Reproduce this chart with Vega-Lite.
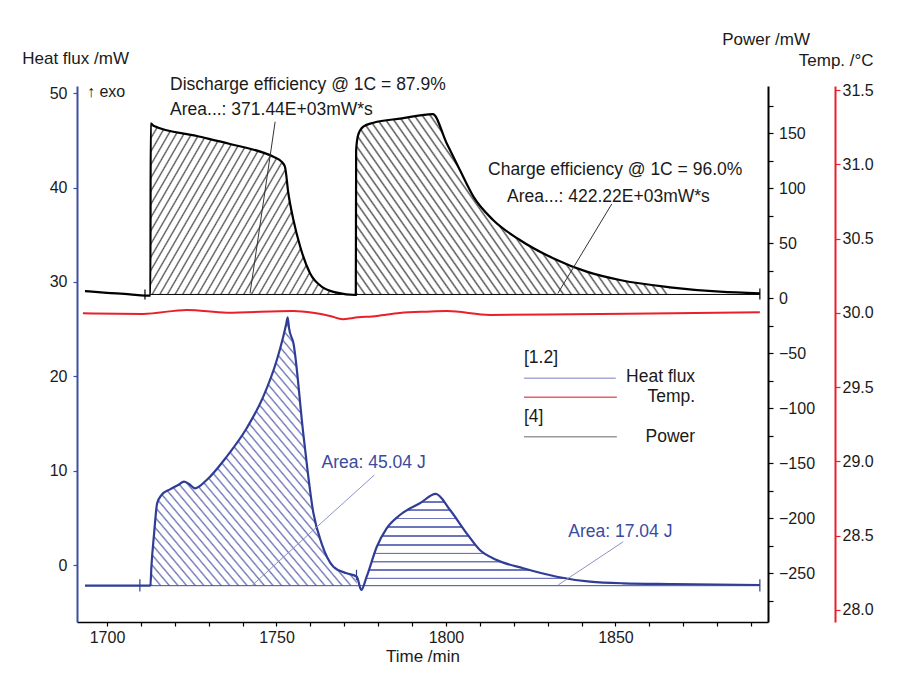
{
"$schema":"https://vega.github.io/schema/vega-lite/v6.json",
"width":691,"height":536,
"autosize":{"type":"none"},
"padding":{"left":77,"top":86,"right":131,"bottom":53},
"background":"#ffffff",
"config":{
 "view":{"stroke":null},
 "axis":{"grid":false,"labelFont":"Liberation Sans","titleFont":"Liberation Sans","labelFontSize":16,"titleFontSize":17,"titleFontWeight":"normal","labelColor":"#1a1a1a","titleColor":"#1a1a1a","domainColor":"#000000","tickColor":"#000000","domainWidth":1.5,"tickWidth":1.2,"labelOverlap":false,"labelFlush":false}
},
"datasets":{
 "hf":[
  {"t":1693.5,"hf":-2.19},{"t":1709.7,"hf":-2.19},{"t":1712.8,"hf":-2.19},{"t":1713.1,"hf":-0.18},{"t":1713.9,"hf":3.36},{"t":1714.8,"hf":6.54},{"t":1716.1,"hf":7.42},{"t":1718.6,"hf":8.02},{"t":1721.0,"hf":8.48},{"t":1722.7,"hf":8.83},{"t":1724.2,"hf":8.59},{"t":1726.0,"hf":8.13},{"t":1729.4,"hf":9.01},{"t":1735.3,"hf":11.48},{"t":1741.2,"hf":14.49},{"t":1746.1,"hf":17.84},{"t":1750.1,"hf":21.73},{"t":1751.9,"hf":24.06},{"t":1752.9,"hf":25.6},{"t":1753.3,"hf":26.26},{"t":1753.7,"hf":25.1},{"t":1755.0,"hf":23.5},{"t":1757.9,"hf":13.96},{"t":1760.9,"hf":5.48},{"t":1763.3,"hf":2.3},{"t":1766.8,"hf":-0.18},{"t":1770.7,"hf":-0.88},{"t":1773.7,"hf":-1.24},{"t":1775.0,"hf":-2.65},{"t":1776.6,"hf":-1.24},{"t":1779.6,"hf":1.94},{"t":1782.5,"hf":3.89},{"t":1786.4,"hf":5.3},{"t":1792.3,"hf":6.54},{"t":1797.0,"hf":7.53},{"t":1801.2,"hf":5.83},{"t":1806.1,"hf":3.36},{"t":1810.0,"hf":1.59},{"t":1815.0,"hf":0.53},{"t":1822.8,"hf":-0.35},{"t":1832.7,"hf":-1.24},{"t":1842.5,"hf":-1.77},{"t":1852.3,"hf":-1.94},{"t":1867.1,"hf":-2.01},{"t":1892.6,"hf":-2.12}
 ],
 "power":[
  {"t":1693.5,"P":6.5},{"t":1700.0,"P":5.0},{"t":1706.8,"P":3.6},{"t":1711.2,"P":2.4},{"t":1712.8,"P":2.4},{"t":1712.9,"P":159.1},{"t":1713.7,"P":156.9},{"t":1726.5,"P":147.5},{"t":1736.3,"P":140.3},{"t":1746.1,"P":132.4},{"t":1749.1,"P":128.7},{"t":1751.5,"P":124.2},{"t":1752.5,"P":119.6},{"t":1753.5,"P":95.5},{"t":1755.0,"P":71.2},{"t":1757.0,"P":46.9},{"t":1759.9,"P":22.7},{"t":1763.8,"P":9.6},{"t":1767.8,"P":5.1},{"t":1773.3,"P":3.0},{"t":1773.4,"P":3.0},{"t":1773.5,"P":134.8},{"t":1774.1,"P":148.5},{"t":1775.6,"P":156.0},{"t":1778.6,"P":159.6},{"t":1787.0,"P":163.5},{"t":1796.1,"P":167.5},{"t":1800.2,"P":140.9},{"t":1804.1,"P":116.6},{"t":1808.1,"P":92.4},{"t":1813.9,"P":71.2},{"t":1821.8,"P":53.0},{"t":1831.6,"P":36.4},{"t":1841.5,"P":24.2},{"t":1851.3,"P":16.6},{"t":1866.1,"P":10.0},{"t":1880.8,"P":6.0},{"t":1892.6,"P":4.5}
 ],
 "temp":[
  {"t":1692.9,"T":29.997},{"t":1710.6,"T":29.993},{"t":1723.6,"T":30.02},{"t":1735.4,"T":30.001},{"t":1754.9,"T":30.013},{"t":1760.8,"T":30.001},{"t":1765.8,"T":29.979},{"t":1769.6,"T":29.957},{"t":1772.6,"T":29.966},{"t":1779.6,"T":29.979},{"t":1786.4,"T":29.999},{"t":1794.4,"T":30.008},{"t":1800.3,"T":30.012},{"t":1813.0,"T":29.986},{"t":1837.5,"T":29.991},{"t":1867.0,"T":29.998},{"t":1892.6,"T":30.004}
 ]
},
"encoding":{"x":{"field":"t","type":"quantitative","scale":{"domain":[1691.15,1895],"nice":false,"zero":false},"axis":{"title":"Time /min","values":[1700,1710,1720,1730,1740,1750,1760,1770,1780,1790,1800,1810,1820,1830,1840,1850,1860,1870,1880,1890],"format":"d","labelExpr":"datum.value % 50 === 0 ? datum.label : ''","tickSize":4,"labelPadding":3,"titlePadding":3}}},
"layer":[
 {
  "encoding":{"y":{"field":"hf","type":"quantitative","scale":{"domain":[-6.04,50.77],"nice":false,"zero":false},"axis":{"orient":"left","title":"Heat flux /mW","values":[0,10,20,30,40,50],"tickSize":4,"labelPadding":6,"domainColor":"#3d4da3","tickColor":"#3d4da3","domainWidth":2,"titleAngle":0,"titleAlign":"left","titleBaseline":"middle","titleX":-55.3,"titleY":-27.7}}},
  "layer":[
   {"data":{"name":"hf"},"transform":[{"filter":"datum.t >= 1712.8 && datum.t <= 1773.7"}],"mark":{"type":"area","interpolate":"monotone","fill":{"gradient":"linear","x1":0,"y1":1,"x2":0.9537,"y2":-0.0424,"stops":[
{"offset":0,"color":"#fff"},{"offset":0.004,"color":"#6a72b6"},{"offset":0.008,"color":"#fff"},{"offset":0.02,"color":"#fff"},{"offset":0.024,"color":"#6a72b6"},{"offset":0.028,"color":"#fff"},{"offset":0.04,"color":"#fff"},{"offset":0.044,"color":"#6a72b6"},{"offset":0.048,"color":"#fff"},{"offset":0.06,"color":"#fff"},{"offset":0.064,"color":"#6a72b6"},{"offset":0.068,"color":"#fff"},{"offset":0.08,"color":"#fff"},{"offset":0.084,"color":"#6a72b6"},{"offset":0.088,"color":"#fff"},{"offset":0.1,"color":"#fff"},{"offset":0.104,"color":"#6a72b6"},{"offset":0.108,"color":"#fff"},{"offset":0.12,"color":"#fff"},{"offset":0.124,"color":"#6a72b6"},{"offset":0.128,"color":"#fff"},{"offset":0.14,"color":"#fff"},{"offset":0.144,"color":"#6a72b6"},{"offset":0.148,"color":"#fff"},{"offset":0.16,"color":"#fff"},{"offset":0.164,"color":"#6a72b6"},{"offset":0.168,"color":"#fff"},{"offset":0.18,"color":"#fff"},{"offset":0.184,"color":"#6a72b6"},{"offset":0.188,"color":"#fff"},{"offset":0.2,"color":"#fff"},{"offset":0.204,"color":"#6a72b6"},{"offset":0.208,"color":"#fff"},{"offset":0.22,"color":"#fff"},{"offset":0.224,"color":"#6a72b6"},{"offset":0.228,"color":"#fff"},{"offset":0.24,"color":"#fff"},{"offset":0.244,"color":"#6a72b6"},{"offset":0.248,"color":"#fff"},{"offset":0.26,"color":"#fff"},{"offset":0.264,"color":"#6a72b6"},{"offset":0.268,"color":"#fff"},{"offset":0.28,"color":"#fff"},{"offset":0.284,"color":"#6a72b6"},{"offset":0.288,"color":"#fff"},{"offset":0.3,"color":"#fff"},{"offset":0.304,"color":"#6a72b6"},{"offset":0.308,"color":"#fff"},{"offset":0.32,"color":"#fff"},{"offset":0.324,"color":"#6a72b6"},{"offset":0.328,"color":"#fff"},{"offset":0.34,"color":"#fff"},{"offset":0.344,"color":"#6a72b6"},{"offset":0.348,"color":"#fff"},{"offset":0.36,"color":"#fff"},{"offset":0.364,"color":"#6a72b6"},{"offset":0.368,"color":"#fff"},{"offset":0.38,"color":"#fff"},{"offset":0.384,"color":"#6a72b6"},{"offset":0.388,"color":"#fff"},{"offset":0.4,"color":"#fff"},{"offset":0.404,"color":"#6a72b6"},{"offset":0.408,"color":"#fff"},{"offset":0.42,"color":"#fff"},{"offset":0.424,"color":"#6a72b6"},{"offset":0.428,"color":"#fff"},{"offset":0.44,"color":"#fff"},{"offset":0.444,"color":"#6a72b6"},{"offset":0.448,"color":"#fff"},{"offset":0.46,"color":"#fff"},{"offset":0.464,"color":"#6a72b6"},{"offset":0.468,"color":"#fff"},{"offset":0.48,"color":"#fff"},{"offset":0.484,"color":"#6a72b6"},{"offset":0.488,"color":"#fff"},{"offset":0.5,"color":"#fff"},{"offset":0.504,"color":"#6a72b6"},{"offset":0.508,"color":"#fff"},{"offset":0.52,"color":"#fff"},{"offset":0.524,"color":"#6a72b6"},{"offset":0.528,"color":"#fff"},{"offset":0.54,"color":"#fff"},{"offset":0.544,"color":"#6a72b6"},{"offset":0.548,"color":"#fff"},{"offset":0.56,"color":"#fff"},{"offset":0.564,"color":"#6a72b6"},{"offset":0.568,"color":"#fff"},{"offset":0.58,"color":"#fff"},{"offset":0.584,"color":"#6a72b6"},{"offset":0.588,"color":"#fff"},{"offset":0.6,"color":"#fff"},{"offset":0.604,"color":"#6a72b6"},{"offset":0.608,"color":"#fff"},{"offset":0.62,"color":"#fff"},{"offset":0.624,"color":"#6a72b6"},{"offset":0.628,"color":"#fff"},{"offset":0.64,"color":"#fff"},{"offset":0.644,"color":"#6a72b6"},{"offset":0.648,"color":"#fff"},{"offset":0.66,"color":"#fff"},{"offset":0.664,"color":"#6a72b6"},{"offset":0.668,"color":"#fff"},{"offset":0.68,"color":"#fff"},{"offset":0.684,"color":"#6a72b6"},{"offset":0.688,"color":"#fff"},{"offset":0.7,"color":"#fff"},{"offset":0.704,"color":"#6a72b6"},{"offset":0.708,"color":"#fff"},{"offset":0.72,"color":"#fff"},{"offset":0.724,"color":"#6a72b6"},{"offset":0.728,"color":"#fff"},{"offset":0.74,"color":"#fff"},{"offset":0.744,"color":"#6a72b6"},{"offset":0.748,"color":"#fff"},{"offset":0.76,"color":"#fff"},{"offset":0.764,"color":"#6a72b6"},{"offset":0.768,"color":"#fff"},{"offset":0.78,"color":"#fff"},{"offset":0.784,"color":"#6a72b6"},{"offset":0.788,"color":"#fff"},{"offset":0.8,"color":"#fff"},{"offset":0.804,"color":"#6a72b6"},{"offset":0.808,"color":"#fff"},{"offset":0.82,"color":"#fff"},{"offset":0.824,"color":"#6a72b6"},{"offset":0.828,"color":"#fff"},{"offset":0.84,"color":"#fff"},{"offset":0.844,"color":"#6a72b6"},{"offset":0.848,"color":"#fff"},{"offset":0.86,"color":"#fff"},{"offset":0.864,"color":"#6a72b6"},{"offset":0.868,"color":"#fff"},{"offset":0.88,"color":"#fff"},{"offset":0.884,"color":"#6a72b6"},{"offset":0.888,"color":"#fff"},{"offset":0.9,"color":"#fff"},{"offset":0.904,"color":"#6a72b6"},{"offset":0.908,"color":"#fff"},{"offset":0.92,"color":"#fff"},{"offset":0.924,"color":"#6a72b6"},{"offset":0.928,"color":"#fff"},{"offset":0.94,"color":"#fff"},{"offset":0.944,"color":"#6a72b6"},{"offset":0.948,"color":"#fff"},{"offset":0.96,"color":"#fff"},{"offset":0.964,"color":"#6a72b6"},{"offset":0.968,"color":"#fff"},{"offset":0.98,"color":"#fff"},{"offset":0.984,"color":"#6a72b6"},{"offset":0.988,"color":"#fff"}
   ]}},"encoding":{"y2":{"datum":-2.19}}},
   {"data":{"name":"hf"},"transform":[{"filter":"datum.t >= 1775.0 && datum.t <= 1852.3"}],"mark":{"type":"area","interpolate":"monotone","fill":{"gradient":"linear","x1":0,"y1":0,"x2":0,"y2":1,"stops":[
     {"offset":0.075,"color":"rgba(60,72,165,0)"},{"offset":0.078,"color":"rgba(60,72,165,0.75)"},{"offset":0.090,"color":"rgba(60,72,165,0.75)"},{"offset":0.093,"color":"rgba(60,72,165,0)"},
     {"offset":0.159,"color":"rgba(60,72,165,0)"},{"offset":0.162,"color":"rgba(60,72,165,0.75)"},{"offset":0.174,"color":"rgba(60,72,165,0.75)"},{"offset":0.177,"color":"rgba(60,72,165,0)"},
     {"offset":0.247,"color":"rgba(60,72,165,0)"},{"offset":0.250,"color":"rgba(60,72,165,0.75)"},{"offset":0.262,"color":"rgba(60,72,165,0.75)"},{"offset":0.265,"color":"rgba(60,72,165,0)"},
     {"offset":0.335,"color":"rgba(60,72,165,0)"},{"offset":0.338,"color":"rgba(60,72,165,0.75)"},{"offset":0.350,"color":"rgba(60,72,165,0.75)"},{"offset":0.353,"color":"rgba(60,72,165,0)"},
     {"offset":0.429,"color":"rgba(60,72,165,0)"},{"offset":0.432,"color":"rgba(60,72,165,0.75)"},{"offset":0.444,"color":"rgba(60,72,165,0.75)"},{"offset":0.447,"color":"rgba(60,72,165,0)"},
     {"offset":0.523,"color":"rgba(60,72,165,0)"},{"offset":0.526,"color":"rgba(60,72,165,0.75)"},{"offset":0.538,"color":"rgba(60,72,165,0.75)"},{"offset":0.541,"color":"rgba(60,72,165,0)"},
     {"offset":0.609,"color":"rgba(60,72,165,0)"},{"offset":0.612,"color":"rgba(60,72,165,0.75)"},{"offset":0.624,"color":"rgba(60,72,165,0.75)"},{"offset":0.627,"color":"rgba(60,72,165,0)"},
     {"offset":0.697,"color":"rgba(60,72,165,0)"},{"offset":0.700,"color":"rgba(60,72,165,0.75)"},{"offset":0.712,"color":"rgba(60,72,165,0.75)"},{"offset":0.715,"color":"rgba(60,72,165,0)"},
     {"offset":0.783,"color":"rgba(60,72,165,0)"},{"offset":0.786,"color":"rgba(60,72,165,0.75)"},{"offset":0.798,"color":"rgba(60,72,165,0.75)"},{"offset":0.801,"color":"rgba(60,72,165,0)"},
     {"offset":0.869,"color":"rgba(60,72,165,0)"},{"offset":0.872,"color":"rgba(60,72,165,0.75)"},{"offset":0.884,"color":"rgba(60,72,165,0.75)"},{"offset":0.887,"color":"rgba(60,72,165,0)"}
   ]}},"encoding":{"y2":{"datum":-2.19}}},
   {"data":{"values":[{"t":1712.8,"t2":1892.6,"hf":-2.19}]},"mark":{"type":"rule","color":"#3d4da3","strokeWidth":1},"encoding":{"x2":{"field":"t2"}}},
   {"data":{"values":[{"t":1709.7,"hf":-1.5,"hf2":-2.8},{"t":1773.6,"hf":-0.5,"hf2":-1.6},{"t":1892.6,"hf":-1.5,"hf2":-2.8}]},"mark":{"type":"rule","color":"#2f3d96","strokeWidth":1.2},"encoding":{"y2":{"field":"hf2"}}},
   {"data":{"name":"hf"},"mark":{"type":"line","interpolate":"monotone","color":"#2f3d96","strokeWidth":2.2},"encoding":{}}
  ]
 },
 {
  "encoding":{"y":{"field":"P","type":"quantitative","scale":{"domain":[-294.3,193],"nice":false,"zero":false},"axis":{"orient":"right","title":"Power /mW","values":[-275,-250,-225,-200,-175,-150,-125,-100,-75,-50,-25,0,25,50,75,100,125,150,175],"labelExpr":"datum.value % 50 === 0 ? datum.label : ''","tickSize":5,"labelPadding":5.5,"domainWidth":2,"titleAngle":0,"titleAlign":"left","titleBaseline":"middle","titleX":-46.3,"titleY":-47}}},
  "layer":[
   {"data":{"name":"power"},"transform":[{"filter":"datum.t >= 1712.8 && datum.t <= 1773.4"}],"mark":{"type":"area","interpolate":"monotone","fill":{"gradient":"linear","x1":0,"y1":0,"x2":1.2025,"y2":0.583,"stops":[
{"offset":0,"color":"#fff"},{"offset":0.005,"color":"#555"},{"offset":0.01,"color":"#fff"},{"offset":0.025,"color":"#fff"},{"offset":0.03,"color":"#555"},{"offset":0.035,"color":"#fff"},{"offset":0.05,"color":"#fff"},{"offset":0.055,"color":"#555"},{"offset":0.06,"color":"#fff"},{"offset":0.075,"color":"#fff"},{"offset":0.08,"color":"#555"},{"offset":0.085,"color":"#fff"},{"offset":0.1,"color":"#fff"},{"offset":0.105,"color":"#555"},{"offset":0.11,"color":"#fff"},{"offset":0.125,"color":"#fff"},{"offset":0.13,"color":"#555"},{"offset":0.135,"color":"#fff"},{"offset":0.15,"color":"#fff"},{"offset":0.155,"color":"#555"},{"offset":0.16,"color":"#fff"},{"offset":0.175,"color":"#fff"},{"offset":0.18,"color":"#555"},{"offset":0.185,"color":"#fff"},{"offset":0.2,"color":"#fff"},{"offset":0.205,"color":"#555"},{"offset":0.21,"color":"#fff"},{"offset":0.225,"color":"#fff"},{"offset":0.23,"color":"#555"},{"offset":0.235,"color":"#fff"},{"offset":0.25,"color":"#fff"},{"offset":0.255,"color":"#555"},{"offset":0.26,"color":"#fff"},{"offset":0.275,"color":"#fff"},{"offset":0.28,"color":"#555"},{"offset":0.285,"color":"#fff"},{"offset":0.3,"color":"#fff"},{"offset":0.305,"color":"#555"},{"offset":0.31,"color":"#fff"},{"offset":0.325,"color":"#fff"},{"offset":0.33,"color":"#555"},{"offset":0.335,"color":"#fff"},{"offset":0.35,"color":"#fff"},{"offset":0.355,"color":"#555"},{"offset":0.36,"color":"#fff"},{"offset":0.375,"color":"#fff"},{"offset":0.38,"color":"#555"},{"offset":0.385,"color":"#fff"},{"offset":0.4,"color":"#fff"},{"offset":0.405,"color":"#555"},{"offset":0.41,"color":"#fff"},{"offset":0.425,"color":"#fff"},{"offset":0.43,"color":"#555"},{"offset":0.435,"color":"#fff"},{"offset":0.45,"color":"#fff"},{"offset":0.455,"color":"#555"},{"offset":0.46,"color":"#fff"},{"offset":0.475,"color":"#fff"},{"offset":0.48,"color":"#555"},{"offset":0.485,"color":"#fff"},{"offset":0.5,"color":"#fff"},{"offset":0.505,"color":"#555"},{"offset":0.51,"color":"#fff"},{"offset":0.525,"color":"#fff"},{"offset":0.53,"color":"#555"},{"offset":0.535,"color":"#fff"},{"offset":0.55,"color":"#fff"},{"offset":0.555,"color":"#555"},{"offset":0.56,"color":"#fff"},{"offset":0.575,"color":"#fff"},{"offset":0.58,"color":"#555"},{"offset":0.585,"color":"#fff"},{"offset":0.6,"color":"#fff"},{"offset":0.605,"color":"#555"},{"offset":0.61,"color":"#fff"},{"offset":0.625,"color":"#fff"},{"offset":0.63,"color":"#555"},{"offset":0.635,"color":"#fff"},{"offset":0.65,"color":"#fff"},{"offset":0.655,"color":"#555"},{"offset":0.66,"color":"#fff"},{"offset":0.675,"color":"#fff"},{"offset":0.68,"color":"#555"},{"offset":0.685,"color":"#fff"},{"offset":0.7,"color":"#fff"},{"offset":0.705,"color":"#555"},{"offset":0.71,"color":"#fff"},{"offset":0.725,"color":"#fff"},{"offset":0.73,"color":"#555"},{"offset":0.735,"color":"#fff"},{"offset":0.75,"color":"#fff"},{"offset":0.755,"color":"#555"},{"offset":0.76,"color":"#fff"},{"offset":0.775,"color":"#fff"},{"offset":0.78,"color":"#555"},{"offset":0.785,"color":"#fff"},{"offset":0.8,"color":"#fff"},{"offset":0.805,"color":"#555"},{"offset":0.81,"color":"#fff"},{"offset":0.825,"color":"#fff"},{"offset":0.83,"color":"#555"},{"offset":0.835,"color":"#fff"},{"offset":0.85,"color":"#fff"},{"offset":0.855,"color":"#555"},{"offset":0.86,"color":"#fff"},{"offset":0.875,"color":"#fff"},{"offset":0.88,"color":"#555"},{"offset":0.885,"color":"#fff"},{"offset":0.9,"color":"#fff"},{"offset":0.905,"color":"#555"},{"offset":0.91,"color":"#fff"},{"offset":0.925,"color":"#fff"},{"offset":0.93,"color":"#555"},{"offset":0.935,"color":"#fff"},{"offset":0.95,"color":"#fff"},{"offset":0.955,"color":"#555"},{"offset":0.96,"color":"#fff"},{"offset":0.975,"color":"#fff"},{"offset":0.98,"color":"#555"},{"offset":0.985,"color":"#fff"}
   ]}},"encoding":{"y2":{"datum":3.5}}},
   {"data":{"name":"power"},"transform":[{"filter":"datum.t >= 1773.4 && datum.t <= 1866.1"}],"mark":{"type":"area","interpolate":"monotone","fill":{"gradient":"linear","x1":0,"y1":1,"x2":1.207,"y2":0.5133,"stops":[
{"offset":0,"color":"#fff"},{"offset":0.004,"color":"#555"},{"offset":0.008,"color":"#fff"},{"offset":0.018,"color":"#fff"},{"offset":0.022,"color":"#555"},{"offset":0.026,"color":"#fff"},{"offset":0.036,"color":"#fff"},{"offset":0.04,"color":"#555"},{"offset":0.044,"color":"#fff"},{"offset":0.054,"color":"#fff"},{"offset":0.058,"color":"#555"},{"offset":0.062,"color":"#fff"},{"offset":0.072,"color":"#fff"},{"offset":0.076,"color":"#555"},{"offset":0.08,"color":"#fff"},{"offset":0.09,"color":"#fff"},{"offset":0.094,"color":"#555"},{"offset":0.098,"color":"#fff"},{"offset":0.108,"color":"#fff"},{"offset":0.112,"color":"#555"},{"offset":0.116,"color":"#fff"},{"offset":0.126,"color":"#fff"},{"offset":0.13,"color":"#555"},{"offset":0.134,"color":"#fff"},{"offset":0.144,"color":"#fff"},{"offset":0.148,"color":"#555"},{"offset":0.152,"color":"#fff"},{"offset":0.162,"color":"#fff"},{"offset":0.166,"color":"#555"},{"offset":0.17,"color":"#fff"},{"offset":0.18,"color":"#fff"},{"offset":0.184,"color":"#555"},{"offset":0.188,"color":"#fff"},{"offset":0.198,"color":"#fff"},{"offset":0.202,"color":"#555"},{"offset":0.206,"color":"#fff"},{"offset":0.216,"color":"#fff"},{"offset":0.22,"color":"#555"},{"offset":0.224,"color":"#fff"},{"offset":0.234,"color":"#fff"},{"offset":0.238,"color":"#555"},{"offset":0.242,"color":"#fff"},{"offset":0.252,"color":"#fff"},{"offset":0.256,"color":"#555"},{"offset":0.26,"color":"#fff"},{"offset":0.27,"color":"#fff"},{"offset":0.274,"color":"#555"},{"offset":0.278,"color":"#fff"},{"offset":0.288,"color":"#fff"},{"offset":0.292,"color":"#555"},{"offset":0.296,"color":"#fff"},{"offset":0.306,"color":"#fff"},{"offset":0.31,"color":"#555"},{"offset":0.314,"color":"#fff"},{"offset":0.324,"color":"#fff"},{"offset":0.328,"color":"#555"},{"offset":0.332,"color":"#fff"},{"offset":0.342,"color":"#fff"},{"offset":0.346,"color":"#555"},{"offset":0.35,"color":"#fff"},{"offset":0.36,"color":"#fff"},{"offset":0.364,"color":"#555"},{"offset":0.368,"color":"#fff"},{"offset":0.378,"color":"#fff"},{"offset":0.382,"color":"#555"},{"offset":0.386,"color":"#fff"},{"offset":0.396,"color":"#fff"},{"offset":0.4,"color":"#555"},{"offset":0.404,"color":"#fff"},{"offset":0.414,"color":"#fff"},{"offset":0.418,"color":"#555"},{"offset":0.422,"color":"#fff"},{"offset":0.432,"color":"#fff"},{"offset":0.436,"color":"#555"},{"offset":0.44,"color":"#fff"},{"offset":0.45,"color":"#fff"},{"offset":0.454,"color":"#555"},{"offset":0.458,"color":"#fff"},{"offset":0.468,"color":"#fff"},{"offset":0.472,"color":"#555"},{"offset":0.476,"color":"#fff"},{"offset":0.486,"color":"#fff"},{"offset":0.49,"color":"#555"},{"offset":0.494,"color":"#fff"},{"offset":0.504,"color":"#fff"},{"offset":0.508,"color":"#555"},{"offset":0.512,"color":"#fff"},{"offset":0.522,"color":"#fff"},{"offset":0.526,"color":"#555"},{"offset":0.53,"color":"#fff"},{"offset":0.54,"color":"#fff"},{"offset":0.544,"color":"#555"},{"offset":0.548,"color":"#fff"},{"offset":0.558,"color":"#fff"},{"offset":0.562,"color":"#555"},{"offset":0.566,"color":"#fff"},{"offset":0.576,"color":"#fff"},{"offset":0.58,"color":"#555"},{"offset":0.584,"color":"#fff"},{"offset":0.594,"color":"#fff"},{"offset":0.598,"color":"#555"},{"offset":0.602,"color":"#fff"},{"offset":0.612,"color":"#fff"},{"offset":0.616,"color":"#555"},{"offset":0.62,"color":"#fff"},{"offset":0.63,"color":"#fff"},{"offset":0.634,"color":"#555"},{"offset":0.638,"color":"#fff"},{"offset":0.648,"color":"#fff"},{"offset":0.652,"color":"#555"},{"offset":0.656,"color":"#fff"},{"offset":0.666,"color":"#fff"},{"offset":0.67,"color":"#555"},{"offset":0.674,"color":"#fff"},{"offset":0.684,"color":"#fff"},{"offset":0.688,"color":"#555"},{"offset":0.692,"color":"#fff"},{"offset":0.702,"color":"#fff"},{"offset":0.706,"color":"#555"},{"offset":0.71,"color":"#fff"},{"offset":0.72,"color":"#fff"},{"offset":0.724,"color":"#555"},{"offset":0.728,"color":"#fff"},{"offset":0.738,"color":"#fff"},{"offset":0.742,"color":"#555"},{"offset":0.746,"color":"#fff"},{"offset":0.756,"color":"#fff"},{"offset":0.76,"color":"#555"},{"offset":0.764,"color":"#fff"},{"offset":0.774,"color":"#fff"},{"offset":0.778,"color":"#555"},{"offset":0.782,"color":"#fff"},{"offset":0.792,"color":"#fff"},{"offset":0.796,"color":"#555"},{"offset":0.8,"color":"#fff"},{"offset":0.81,"color":"#fff"},{"offset":0.814,"color":"#555"},{"offset":0.818,"color":"#fff"},{"offset":0.828,"color":"#fff"},{"offset":0.832,"color":"#555"},{"offset":0.836,"color":"#fff"},{"offset":0.846,"color":"#fff"},{"offset":0.85,"color":"#555"},{"offset":0.854,"color":"#fff"},{"offset":0.864,"color":"#fff"},{"offset":0.868,"color":"#555"},{"offset":0.872,"color":"#fff"},{"offset":0.882,"color":"#fff"},{"offset":0.886,"color":"#555"},{"offset":0.89,"color":"#fff"},{"offset":0.9,"color":"#fff"},{"offset":0.904,"color":"#555"},{"offset":0.908,"color":"#fff"},{"offset":0.918,"color":"#fff"},{"offset":0.922,"color":"#555"},{"offset":0.926,"color":"#fff"},{"offset":0.936,"color":"#fff"},{"offset":0.94,"color":"#555"},{"offset":0.944,"color":"#fff"},{"offset":0.954,"color":"#fff"},{"offset":0.958,"color":"#555"},{"offset":0.962,"color":"#fff"},{"offset":0.972,"color":"#fff"},{"offset":0.976,"color":"#555"},{"offset":0.98,"color":"#fff"},{"offset":0.99,"color":"#fff"},{"offset":0.994,"color":"#555"},{"offset":0.998,"color":"#fff"}
   ]}},"encoding":{"y2":{"datum":3.5}}},
   {"data":{"values":[{"t":1712.8,"t2":1892.6,"P":3.5}]},"mark":{"type":"rule","color":"#000000","strokeWidth":1},"encoding":{"x2":{"field":"t2"}}},
   {"data":{"values":[{"t":1711.2,"P":8,"P2":-1},{"t":1892.6,"P":9,"P2":-1}]},"mark":{"type":"rule","color":"#000000","strokeWidth":1.2},"encoding":{"y2":{"field":"P2"}}},
   {"data":{"name":"power"},"mark":{"type":"line","interpolate":"monotone","color":"#000000","strokeWidth":2.2},"encoding":{}},
   {"data":{"values":[{"t":1749.6,"P":160.5,"t2":1742.2,"P2":4.5},{"t":1848.9,"P":85.7,"t2":1833.0,"P2":4.5}]},"mark":{"type":"rule","color":"#333333","strokeWidth":1},"encoding":{"x2":{"field":"t2"},"y2":{"field":"P2"}}},
   {"data":{"values":[{"t":1778.9,"P":-160.6,"t2":1742.7,"P2":-261.3},{"t":1852.3,"P":-221.3,"t2":1833.1,"P2":-260.6}]},"mark":{"type":"rule","color":"#8d93c4","strokeWidth":1},"encoding":{"x2":{"field":"t2"},"y2":{"field":"P2"}}},
   {"data":{"values":[{"t":1823.0,"t2":1850.1,"P":-72.7,"series":"Heat flux"},{"t":1823.0,"t2":1850.4,"P":-90,"series":"Temp."},{"t":1823.0,"t2":1850.4,"P":-125.8,"series":"Power"}]},"mark":{"type":"rule","strokeWidth":1.5},"encoding":{"x2":{"field":"t2"},"color":{"field":"series","type":"nominal","scale":{"domain":["Heat flux","Temp.","Power"],"range":["#a4a9d6","#e5606b","#9a9a9a"]},"legend":null}}},
   {"data":{"values":[{"t":1718.6,"P":193.9,"label":"Discharge efficiency @ 1C = 87.9%"},{"t":1718.6,"P":171.2,"label":"Area...: 371.44E+03mW*s"},{"t":1812.4,"P":116.6,"label":"Charge efficiency @ 1C = 96.0%"},{"t":1818.0,"P":92.4,"label":"Area...: 422.22E+03mW*s"},{"t":1823.0,"P":-54.5,"label":"[1.2]"},{"t":1823.0,"P":-107.6,"label":"[4]"}]},"mark":{"type":"text","align":"left","baseline":"middle","font":"Liberation Sans","fontSize":17.5,"color":"#1a1a1a"},"encoding":{"text":{"field":"label"}}},
   {"data":{"values":[{"t":1873.5,"P":-71.8,"label":"Heat flux"},{"t":1873.5,"P":-89.5,"label":"Temp."},{"t":1873.5,"P":-125.8,"label":"Power"}]},"mark":{"type":"text","align":"right","baseline":"middle","font":"Liberation Sans","fontSize":17.5,"color":"#1a1a1a"},"encoding":{"text":{"field":"label"}}},
   {"data":{"values":[{"t":1763.3,"P":-150,"label":"Area: 45.04 J"},{"t":1836.1,"P":-212.2,"label":"Area: 17.04 J"}]},"mark":{"type":"text","align":"left","baseline":"middle","font":"Liberation Sans","fontSize":17.5,"color":"#3b4a9e"},"encoding":{"text":{"field":"label"}}},
   {"data":{"values":[{"t":1694.1,"P":187.8,"label":"↑ exo"}]},"mark":{"type":"text","align":"left","baseline":"middle","font":"Liberation Sans","fontSize":16,"color":"#1a1a1a"},"encoding":{"text":{"field":"label"}}}
  ]
 },
 {
  "data":{"name":"temp"},
  "mark":{"type":"line","interpolate":"monotone","color":"#e8202a","strokeWidth":2},
  "encoding":{"y":{"field":"T","type":"quantitative","scale":{"domain":[27.919,31.527],"nice":false,"zero":false},"axis":{"orient":"right","offset":67,"title":"Temp. /°C","values":[28,28.5,29,29.5,30,30.5,31,31.5],"format":".1f","tickSize":5,"labelPadding":2,"domainColor":"#e8202a","tickColor":"#e8202a","domainWidth":2,"titleAngle":0,"titleAlign":"left","titleBaseline":"middle","titleX":-36.7,"titleY":-26}}}
 }
],
"resolve":{"scale":{"y":"independent"},"axis":{"y":"independent"}}
}
